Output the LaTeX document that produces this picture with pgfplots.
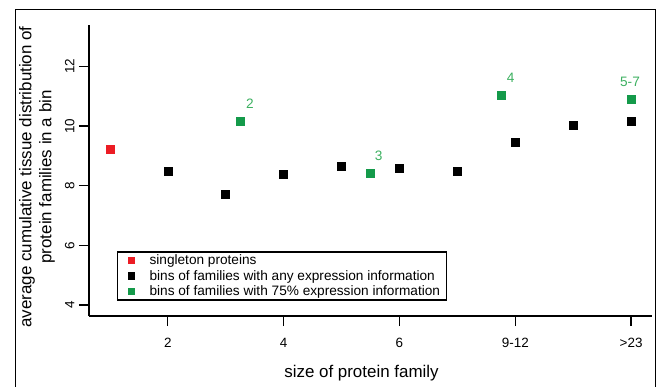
\documentclass[border=0pt]{standalone}
\usepackage{pgfplots}
\pgfplotsset{compat=1.18}
\usepackage{fontspec}
\setmainfont{Liberation Sans}
\definecolor{rred}{RGB}{236,28,36}
\definecolor{rgreen}{RGB}{20,154,74}
\definecolor{lgreen}{RGB}{60,176,96}
\begin{document}
\begin{tikzpicture}
\useasboundingbox (0bp,0bp) rectangle (657bp,-387bp);
\draw[line width=1bp] (15.5bp,-387bp) -- (15.5bp,-9.5bp) -- (655.5bp,-9.5bp) -- (655.5bp,-387bp);
\begin{axis}[
  at={(89bp,-316bp)}, anchor=south west,
  scale only axis, width=563bp, height=291bp,
  xmin=0.64, xmax=10.36, ymin=3.63, ymax=13.39,
  axis x line=bottom, axis y line=left,
  axis line style={-, line width=1.6bp},
  tick style={line width=1.4bp, black},
  tick align=outside, major tick length=10bp,
  xtick={2,4,6,8,10}, xticklabels={2,4,6,9-12,>23},
  ytick={4,6,8,10,12},
  /pgf/number format/assume math mode=true,
  tick label style={font=\fontsize{13.5}{15}\selectfont},
  yticklabel style={rotate=90, anchor=south, yshift=1bp},
  xticklabel style={yshift=-9bp},
  xlabel={size of protein family},
  xlabel style={font=\fontsize{17}{20}\selectfont, at={(axis description cs:0.484,-0.196)}, anchor=center},
  ylabel={average cumulative tissue distribution of\\protein families in a bin},
  ylabel style={font=\fontsize{17}{20}\selectfont, align=center, at={(axis description cs:-0.0924,0.478)}, anchor=center},
  legend style={at={(0.0497,0.0526)}, anchor=south west, draw=black, line width=1.2bp,
    font=\fontsize{13.7}{16}\selectfont, row sep=0bp, inner xsep=4bp, inner ysep=1bp},
  legend cell align=left,
  legend image code/.code={\path[draw=none,fill=none] (-7bp,0bp) rectangle (19bp,0.1bp); \fill (0bp,-3bp) rectangle (6bp,3bp);},
  clip=false,
]
\addplot[only marks, mark=square*, mark size=4bp, color=rred] coordinates {(1,9.23)};
\addlegendentry{singleton proteins}
\addplot[only marks, mark=square*, mark size=4bp, color=black] coordinates {
(2,8.49) (3,7.72) (4,8.40) (5,8.67) (6,8.60) (7,8.47) (8,9.47) (9,10.04) (10,10.17)};
\addlegendentry{bins of families with any expression information}
\addplot[only marks, mark=square*, mark size=4bp, color=rgreen] coordinates {
(3.25,10.17) (5.5,8.43) (7.75,11.05) (10,10.91)};
\addlegendentry{bins of families with 75\% expression information}
\addplot[only marks, mark=none, forget plot,
  nodes near coords, point meta=explicit symbolic,
  nodes near coords style={font=\fontsize{13.7}{16}\selectfont, text=lgreen, anchor=center}]
  table[meta=lab] {
x y lab
3.42 10.74 2
5.64 9.00 3
7.92 11.62 4
9.98 11.48 5-7
};
\end{axis}
\end{tikzpicture}
\end{document}
